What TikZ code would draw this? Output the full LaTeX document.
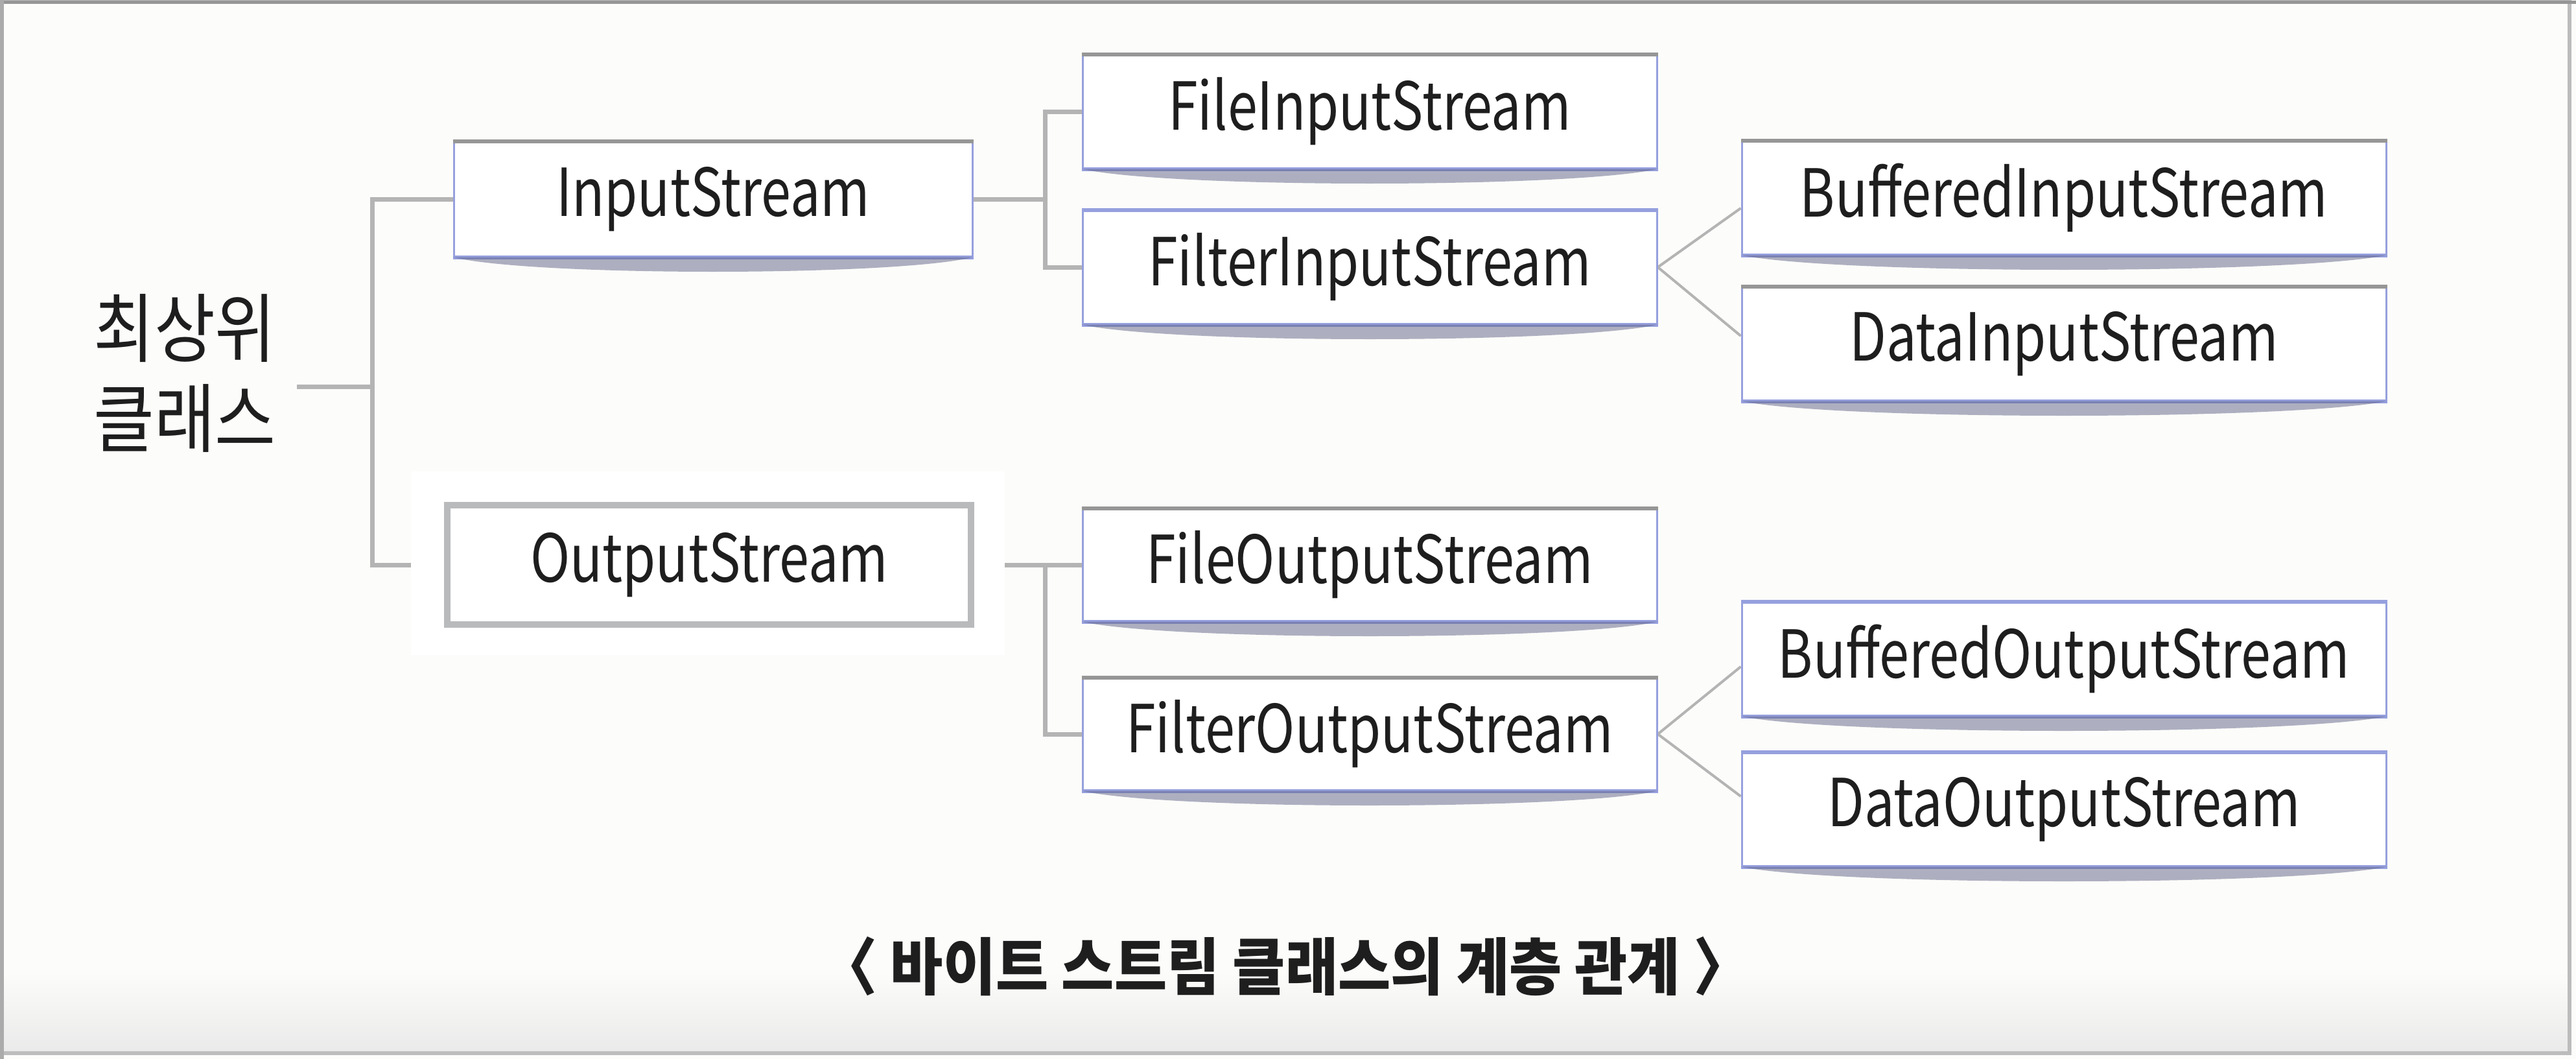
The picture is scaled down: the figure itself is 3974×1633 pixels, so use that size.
\documentclass[tikz,border=0pt]{standalone}
\usepackage{fontspec}
\setmainfont{Noto Sans CJK KR}[FakeStretch=0.88]
\newfontfamily\boxff{Noto Sans CJK KR}[FakeStretch=0.81]
\newfontfamily\capff{Noto Sans CJK KR}[FakeStretch=0.92]
\usetikzlibrary{calc}
\pgfdeclarelayer{bglayer}
\pgfsetlayers{bglayer,main}
\definecolor{bgc}{RGB}{252,252,250}
\definecolor{framec}{RGB}{188,188,188}
\definecolor{bottomc}{RGB}{234,234,234}
\definecolor{connc}{RGB}{180,180,180}
\definecolor{boxblue}{RGB}{150,160,222}
\definecolor{topgray}{RGB}{150,150,150}
\definecolor{shadc}{RGB}{95,100,135}
\definecolor{oboxc}{RGB}{185,186,188}
\definecolor{txtc}{RGB}{30,30,30}
\tikzset{
  boxfont/.style={font=\boxff\fontsize{51pt}{60pt}\selectfont, text=txtc},
  sbox/.style={boxfont, draw=boxblue, line width=1.5pt, fill=white, inner sep=0pt, minimum height=87pt},
  midbox/.style={sbox, minimum width=443pt},
  rightbox/.style={sbox, minimum width=497pt},
  outbox/.style={boxfont, draw=oboxc, line width=5pt, fill=white, inner sep=0pt, minimum width=404pt, minimum height=92pt},
  lbl/.style={font=\fontsize{58pt}{69.5pt}\selectfont, text=txtc, align=center, inner xsep=16pt, inner ysep=0pt},
  capn/.style={font=\capff\fontsize{48pt}{56pt}\selectfont\bfseries, text=txtc, inner sep=0pt},
  conn/.style={draw=connc, line width=3.5pt},
  conndiag/.style={draw=connc, line width=2pt},
  topedge/.style={draw=topgray, line width=3pt},
  blueedge/.style={draw=boxblue, line width=3pt},
  shad/.style={fill=shadc, opacity=0.5},
}
\begin{document}
\begin{tikzpicture}[x=0.5pt,y=-0.5pt]
\useasboundingbox (0,0) rectangle (3974,1633);

% nodes
\node[lbl] (top) at (285,576) {최상위\\클래스};
\node[sbox, minimum width=400pt, minimum height=88pt] (in) at (1100,307) {InputStream};
\node[outbox] (out) at (1094,871) {OutputStream};

\node[midbox] (fis) at (2113,172) {FileInputStream};
\node[midbox] (fil) at (2113,412) {FilterInputStream};
\node[rightbox] (bis) at (3184,305) {BufferedInputStream};
\node[rightbox] (dis) at (3184,530) {DataInputStream};

\node[midbox, minimum height=86pt] (fos) at (2113,871) {FileOutputStream};
\node[midbox, minimum height=86pt] (flo) at (2113,1132) {FilterOutputStream};
\node[rightbox] (bos) at (3184,1016) {BufferedOutputStream};
\node[rightbox] (dos) at (3184,1248) {DataOutputStream};

\node[capn] (cap) at (1983,1490) {〈 바이트 스트림 클래스의 계층 관계 〉};

% junction points
\coordinate (j1) at (574,596);
\coordinate (j2) at (1612,307);
\coordinate (j3) at (1612,871);

% top edges and shadows
\foreach \n in {in,fis,bis,dis,fos,flo} {
  \draw[topedge] (\n.north west) -- (\n.north east);
}
\foreach \n in {fil,bos,dos} {
  \draw[blueedge] (\n.north west) -- (\n.north east);
}
\foreach \n in {in,fis,fil,bis,dis,fos,flo,bos,dos} {
  \draw[blueedge] (\n.south west) -- (\n.south east);
  \fill[shad] (\n.south west) .. controls ($(\n.south west)!0.15!(\n.south east)+(0,30)$) and ($(\n.south west)!0.85!(\n.south east)+(0,30)$) .. (\n.south east) -- cycle;
}

\begin{pgfonlayer}{bglayer}
  \fill[bgc] (0,0) rectangle (3974,1633);
  \shade[top color=bgc, bottom color=bottomc] (6,1500) rectangle (3962,1620);
  \draw[framec, line width=3pt] (3,3) rectangle (3964,1624);
  \draw[topgray, line width=2.5pt] (0,3) -- (3974,3);
  \draw[topgray!80, line width=3pt] (3,0) -- (3,1633);
  % connectors
  \draw[conn] (top.east |- j1) -- (j1);
  \draw[conn] (in.west) -| (j1) |- (out.west);
  \draw[conn] (in.east) -- (j2);
  \draw[conn] (fis.west) -| (j2) |- (fil.west);
  \draw[conn] (out.east) -- (j3);
  \draw[conn] (fos.west) -| (j3) |- (flo.west);
  \draw[conndiag] (fil.east) -- ($(bis.west)+(0,16)$);
  \draw[conndiag] (fil.east) -- ($(dis.west)+(0,-12)$);
  \draw[conndiag] (flo.east) -- ($(bos.west)+(0,12)$);
  \draw[conndiag] (flo.east) -- ($(dos.west)+(0,-20)$);
  % white patch round OutputStream
  \fill[white] (634,727) rectangle (1550,1010);
\end{pgfonlayer}
\end{tikzpicture}
\end{document}
